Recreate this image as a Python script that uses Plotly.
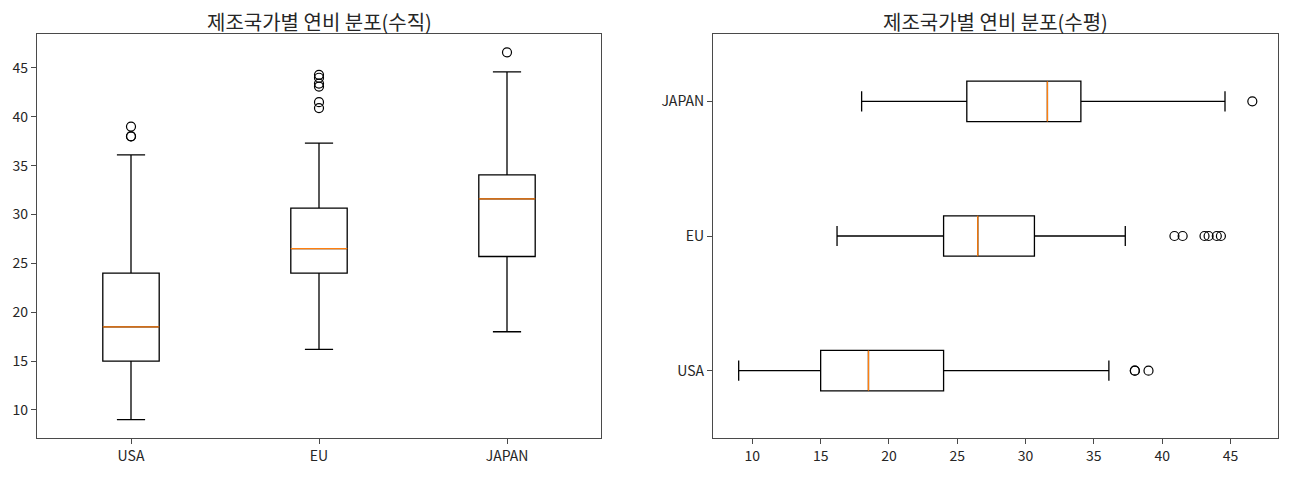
import plotly.graph_objects as go

# ---- data (mpg by origin) ----
categories = ["USA", "EU", "JAPAN"]
positions = [1, 2, 3]
lower_whisker = [9.0, 16.2, 18.0]
q1_values = [15.0, 24.0, 25.7]
median_values = [18.5, 26.5, 31.6]
q3_values = [24.0, 30.65, 34.05]
upper_whisker = [36.1, 37.3, 44.6]
outliers_usa = [38.0, 38.0, 39.0]
outliers_eu = [40.9, 41.5, 43.1, 43.4, 44.0, 44.3]
outliers_japan = [46.6]
outliers = [outliers_usa, outliers_eu, outliers_japan]
value_ticks = [10, 15, 20, 25, 30, 35, 40, 45]

title_left = "제조국가별 연비 분포(수직)"
title_right = "제조국가별 연비 분포(수평)"

FONT = "Noto Sans CJK KR"
BLACK = "#000000"
SPINE = "#4a4a4a"
ORANGE = "#ff7f0e"
LW = 1.3
BOX_W = 0.3

fig = go.Figure()


def add_boxes(horizontal, xa, ya):
    common = dict(xaxis=xa, yaxis=ya, width=BOX_W, whiskerwidth=0.5,
                  hoverinfo="skip", showlegend=False, boxpoints=False)
    if horizontal:
        pos_key, orient = "y", "h"
    else:
        pos_key, orient = "x", "v"
    # main box (black)
    fig.add_trace(go.Box(
        **{pos_key: positions}, orientation=orient,
        q1=q1_values, median=median_values, q3=q3_values,
        lowerfence=lower_whisker, upperfence=upper_whisker,
        line=dict(color=BLACK, width=LW), fillcolor="rgba(255,255,255,0)",
        **common))
    # median overlay (orange) as degenerate box at the median
    fig.add_trace(go.Box(
        **{pos_key: positions}, orientation=orient,
        q1=median_values, median=median_values, q3=median_values,
        lowerfence=median_values, upperfence=median_values,
        line=dict(color=ORANGE, width=LW), fillcolor="rgba(255,255,255,0)",
        **common))
    # outliers
    ox, oy = [], []
    for p, vals in zip(positions, outliers):
        for v in vals:
            if horizontal:
                ox.append(v); oy.append(p)
            else:
                ox.append(p); oy.append(v)
    fig.add_trace(go.Scatter(
        x=ox, y=oy, xaxis=xa, yaxis=ya, mode="markers",
        marker=dict(symbol="circle-open", size=9, color=BLACK,
                    line=dict(width=1.2, color=BLACK)),
        hoverinfo="skip", showlegend=False))


add_boxes(False, "x", "y")
add_boxes(True, "x2", "y2")

# page body has an 8px margin: figure is drawn from (8, 8) in the window
OFF = 8
W, H = 1292 - OFF, 485 - OFF
L1, R1 = 37 - OFF, 601 - OFF
L2, R2 = 713 - OFF, 1278 - OFF
TOP, BOT = 34 - OFF, 438 - OFF
TITLE_Y = 21 - OFF
ydom = [1 - BOT / H, 1 - TOP / H]

axis_common = dict(showgrid=False, zeroline=False, showline=True, mirror=True,
                   linecolor=SPINE, linewidth=1.2, ticks="outside", ticklen=5,
                   tickcolor=SPINE, tickwidth=1, automargin=False,
                   tickfont=dict(family=FONT, size=14, color="#262626"))

val_range = [7.12, 48.48]
cat_range = [0.5, 3.5]

fig.update_layout(
    width=W, height=H,
    margin=dict(l=0, r=0, t=0, b=0, autoexpand=False),
    paper_bgcolor="white", plot_bgcolor="white",
    font=dict(family=FONT, color="#262626"),
    boxmode="overlay",
    xaxis=dict(domain=[L1 / W, R1 / W], range=cat_range, tickvals=positions,
               ticktext=categories, anchor="y", **axis_common),
    yaxis=dict(domain=ydom, range=val_range, tickvals=value_ticks, anchor="x",
               **axis_common),
    xaxis2=dict(domain=[L2 / W, R2 / W], range=val_range, tickvals=value_ticks,
                anchor="y2", **axis_common),
    yaxis2=dict(domain=ydom, range=cat_range, tickvals=positions,
                ticktext=categories, anchor="x2", **axis_common),
    annotations=[
        dict(text=title_left, x=(L1 + R1) / 2 / W, y=1 - TITLE_Y / H,
             xref="paper", yref="paper", showarrow=False, xanchor="center",
             yanchor="middle", borderpad=0,
             font=dict(family=FONT, size=20, color="#262626")),
        dict(text=title_right, x=(L2 + R2) / 2 / W, y=1 - TITLE_Y / H,
             xref="paper", yref="paper", showarrow=False, xanchor="center",
             yanchor="middle", borderpad=0,
             font=dict(family=FONT, size=20, color="#262626")),
    ],
)

fig.write_html("out.html")
